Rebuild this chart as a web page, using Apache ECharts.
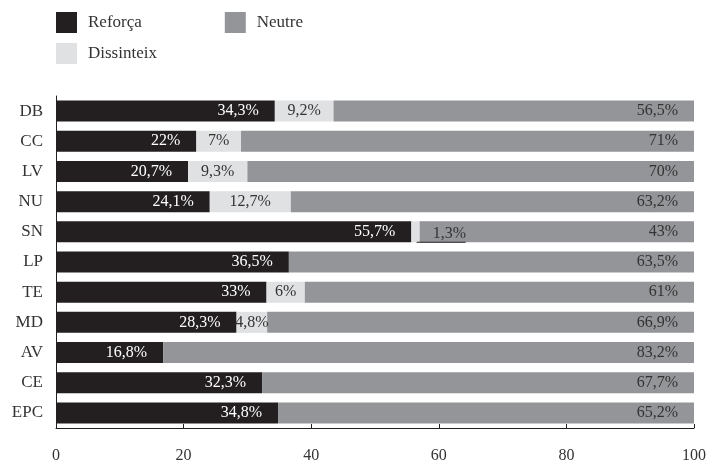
<!DOCTYPE html>
<html><head><meta charset="utf-8">
<script src="https://cdn.jsdelivr.net/npm/echarts@6/dist/echarts.min.js"></script>
<style>html,body{margin:0;padding:0;background:#fff}#c{width:722px;height:464px}</style>
</head><body><div id="c"></div>
<script>
const categories = ['DB','CC','LV','NU','SN','LP','TE','MD','AV','CE','EPC'];
const reforca =    [34.3, 22, 20.7, 24.1, 55.7, 36.5, 33, 28.3, 16.8, 32.3, 34.8];
const dissinteix = [9.2, 7, 9.3, 12.7, 1.3, 0, 6, 4.8, 0, 0, 0];
const neutre =     [56.5, 71, 70, 63.2, 43, 63.5, 61, 66.9, 83.2, 67.7, 65.2];
const xTicks = [0, 20, 40, 60, 80, 100];

const FONT = '"Liberation Serif", "DejaVu Serif", serif';
const fmt = v => (String(v).replace('.', ',')) + '%';

const chart = echarts.init(document.getElementById('c'), null, {renderer: 'canvas'});
chart.setOption({
  backgroundColor: '#ffffff',
  animation: false,
  textStyle: {fontFamily: FONT},
  legend: [
    {data: ['Reforça', 'Neutre'], left: 56, top: 12, padding: 0, orient: 'horizontal', itemWidth: 21, itemHeight: 21, itemGap: 83,
     icon: 'rect', textStyle: {fontFamily: FONT, fontSize: 17, color: '#333', padding: [0, 0, 0, 6]}},
    {data: ['Dissinteix'], left: 56, top: 43, padding: 0, itemWidth: 21, itemHeight: 21, icon: 'rect',
     textStyle: {fontFamily: FONT, fontSize: 17, color: '#333', padding: [0, 0, 0, 6]}}
  ],
  grid: {left: 56, right: 28, top: 96, bottom: 35, containLabel: false},
  xAxis: {
    type: 'value', min: xTicks[0], max: xTicks[xTicks.length - 1], interval: 20,
    axisLine: {show: true, lineStyle: {color: '#231f20', width: 1}},
    axisTick: {show: true, inside: true, length: 4, lineStyle: {color: '#231f20'}},
    splitLine: {show: false},
    axisLabel: {fontFamily: FONT, fontSize: 16, color: '#333', margin: 20}
  },
  yAxis: {
    type: 'category', data: categories, inverse: true,
    axisLine: {show: true, lineStyle: {color: '#231f20', width: 1}},
    axisTick: {show: false},
    axisLabel: {fontFamily: FONT, fontSize: 17, color: '#333', margin: 13}
  },
  series: [
    {name: 'Reforça', type: 'bar', stack: 't', barWidth: 21, data: reforca,
     itemStyle: {color: '#231f20'},
     label: {show: true, position: 'insideRight', distance: 16, color: '#fff', fontFamily: FONT, fontSize: 16,
       formatter: p => fmt(p.value)}},
    {name: 'Dissinteix', type: 'bar', stack: 't', barWidth: 21,
     data: dissinteix.map((v, i) => {
       if (categories[i] === 'SN') {
         return {value: v, label: {show: true, position: 'right', distance: -3, offset: [0, 2],
           formatter: p => '{t|' + fmt(p.value) + '}\n{u|}',
           rich: {
             t: {fontFamily: FONT, fontSize: 16, color: '#333', padding: [0, 0, 0, 16], lineHeight: 17},
             u: {width: 49, height: 1, backgroundColor: '#231f20', lineHeight: 1}
           }}};
       }
       return {value: v, label: {show: v > 0}};
     }),
     itemStyle: {color: '#e0e1e3'},
     label: {show: true, position: 'inside', color: '#333', fontFamily: FONT, fontSize: 16,
       formatter: p => fmt(p.value)}},
    {name: 'Neutre', type: 'bar', stack: 't', barWidth: 21, data: neutre,
     itemStyle: {color: '#939598'},
     label: {show: true, position: 'insideRight', distance: 16, color: '#333', fontFamily: FONT, fontSize: 16,
       formatter: p => fmt(p.value)}}
  ]
});
</script></body></html>
